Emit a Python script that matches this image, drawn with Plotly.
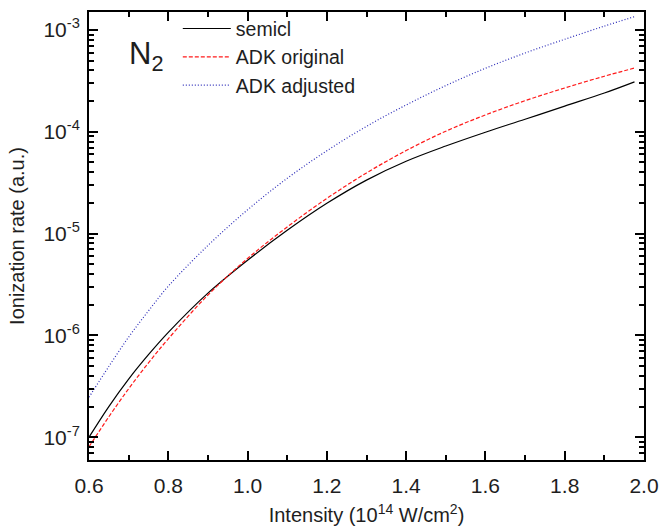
import plotly.graph_objects as go

# Intensity (10^14 W/cm^2)
intensity = [0.6, 0.65, 0.7, 0.75, 0.8, 0.9, 1.0, 1.1, 1.2, 1.3, 1.4, 1.5, 1.6, 1.7, 1.8, 1.9, 1.976]
semicl = [1.00e-7, 2.00e-7, 3.72e-7, 6.46e-7, 1.07e-6, 2.60e-6, 5.47e-6, 1.076e-5, 1.982e-5, 3.35e-5,
          5.13e-5, 7.24e-5, 9.89e-5, 1.327e-4, 1.786e-4, 2.40e-4, 3.09e-4]
adk_original = [8.05e-8, 1.585e-7, 2.99e-7, 5.37e-7, 9.25e-7, 2.49e-6, 5.69e-6, 1.161e-5, 2.213e-5, 3.94e-5,
                6.53e-5, 1.012e-4, 1.462e-4, 2.018e-4, 2.69e-4, 3.51e-4, 4.22e-4]
adk_adjusted = [2.47e-7, 4.95e-7, 9.62e-7, 1.738e-6, 3.04e-6, 7.64e-6, 1.71e-5, 3.49e-5, 6.50e-5, 1.13e-4,
                1.832e-4, 2.84e-4, 4.20e-4, 5.93e-4, 8.09e-4, 1.09e-3, 1.35e-3]

x_ticks = [0.6, 0.8, 1.0, 1.2, 1.4, 1.6, 1.8, 2.0]
x_ticklabels = ["0.6", "0.8", "1.0", "1.2", "1.4", "1.6", "1.8", "2.0"]
y_major_ticks = [1e-7, 1e-6, 1e-5, 1e-4, 1e-3]
y_major_labels = ["10<sup>-7</sup>", "10<sup>-6</sup>", "10<sup>-5</sup>", "10<sup>-4</sup>", "10<sup>-3</sup>"]
y_minor_ticks = [m * 10.0 ** e for e in range(-8, -2) for m in range(2, 10)]

# every y tick position (major + minor); labels only on the decades
y_all_ticks = y_major_ticks + y_minor_ticks
y_all_labels = y_major_labels + [""] * len(y_minor_ticks)

FONT = "Liberation Sans, Arial, sans-serif"
TXT = "#1e1e1e"
Y_RANGE = [-7.224, -2.824]

fig = go.Figure()
fig.add_trace(go.Scatter(x=intensity, y=semicl, mode="lines", name="semicl",
                         line=dict(color="black", width=1.2, shape="spline")))
fig.add_trace(go.Scatter(x=intensity, y=adk_original, mode="lines", name="ADK original",
                         line=dict(color="#ff1a1a", width=1.2, dash="4px,2px", shape="spline")))
fig.add_trace(go.Scatter(x=intensity, y=adk_adjusted, mode="lines", name="ADK adjusted",
                         line=dict(color="#2a2ab8", width=1.2, dash="1px,2px", shape="spline")))
# the same data on the overlay axis (invisible) so that axis is rendered with its long decade ticks
fig.add_trace(go.Scatter(x=intensity, y=semicl, yaxis="y2", mode="lines", showlegend=False,
                         hoverinfo="skip", line=dict(color="rgba(0,0,0,0)", width=0)))

axis_common = dict(showline=True, linecolor="black", linewidth=2, mirror="ticks",
                   tickwidth=1.5, tickcolor="black",
                   showgrid=False, zeroline=False, automargin=False,
                   tickfont=dict(family=FONT, size=21, color=TXT))

fig.update_xaxes(range=[0.6, 2.0], tickvals=x_ticks, ticktext=x_ticklabels, ticklabelstandoff=6,
                 ticks="inside", ticklen=9,
                 minor=dict(ticks="inside", ticklen=5, tickwidth=1.5, tickcolor="black", dtick=0.1, showgrid=False),
                 title=dict(text="Intensity (10<sup>14</sup> W/cm<sup>2</sup>)",
                            font=dict(family=FONT, size=20, color=TXT), standoff=12),
                 **axis_common)
fig.update_layout(
    yaxis=dict(type="log", range=Y_RANGE, tickmode="array", tickvals=y_all_ticks, ticktext=y_all_labels,
               ticks="inside", ticklen=5, ticklabelstandoff=3,
               title=dict(text="Ionization rate (a.u.)",
                          font=dict(family=FONT, size=20, color=TXT), standoff=13),
               **axis_common),
    yaxis2=dict(type="log", range=Y_RANGE, overlaying="y", anchor="x", side="left",
                tickmode="array", tickvals=y_major_ticks, showticklabels=False,
                ticks="inside", ticklen=9, tickwidth=1.5, tickcolor="black",
                showline=True, linecolor="black", linewidth=2, mirror="ticks",
                showgrid=False, zeroline=False, automargin=False),
)

fig.add_annotation(x=0.068, y=0.95, xref="paper", yref="paper", text="N<sub>2</sub>",
                   showarrow=False, xanchor="left", yanchor="top",
                   font=dict(family=FONT, size=31, color=TXT))

fig.update_layout(
    width=661, height=530,
    margin=dict(l=89, r=17, t=9, b=70),
    paper_bgcolor="white", plot_bgcolor="white",
    showlegend=True,
    legend=dict(x=0.16, y=1.006, xanchor="left", yanchor="top", bgcolor="rgba(0,0,0,0)",
                font=dict(family=FONT, size=19.5, color=TXT), itemwidth=48,
                tracegroupgap=0),
)

fig.write_html("out.html")
